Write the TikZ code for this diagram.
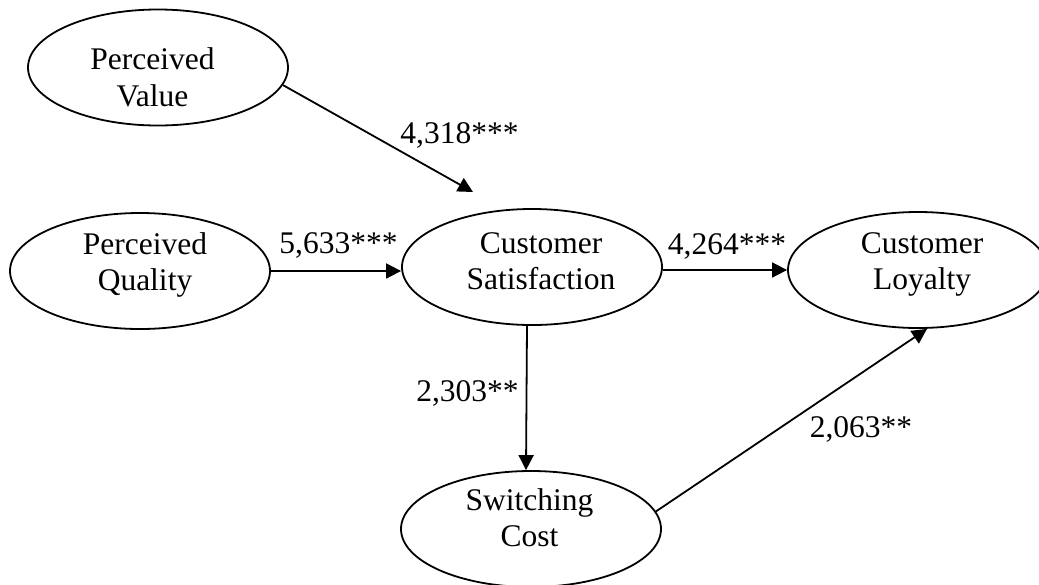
\documentclass[tikz,border=0pt]{standalone}
\usepackage{fontspec}
\setmainfont{Liberation Serif}
\usetikzlibrary{arrows.meta,shapes.geometric}
\begin{document}
\begin{tikzpicture}[x=1pt,y=-1pt,
  oval/.style={draw, ellipse, line width=1.8pt, minimum width=260pt, minimum height=116pt, inner sep=0pt},
  txt/.style={align=center, inner sep=0pt, font=\fontsize{31.5}{36.3}\selectfont},
  lbl/.style={inner sep=0pt, anchor=base, font=\fontsize{31.5}{36.3}\selectfont},
  conn/.style={line width=1.8pt, -{Triangle[length=15pt,width=15pt]}}]
\useasboundingbox (0,0) rectangle (1039,584);
\clip (0,0) rectangle (1039,584);
% ellipses
\node[oval] (PV) at (158,67.5) {};
\node[oval] (PQ) at (140,271) {};
\node[oval] (CS) at (532,267) {};
\node[oval] (CL) at (918,270) {};
\node[oval] (SC) at (531,529) {};
% texts
\node[txt] (PVt) at (152.5,77.4) {Perceived\\Value};
\node[txt] (PQt) at (145,264.7) {Perceived\\Quality};
\node[txt] (CSt) at (541,261.4) {Customer\\Satisfaction};
\node[txt] (CLt) at (922,264.8) {Customer\\Loyalty};
\node[txt] (SCt) at (529.5,517.6) {Switching\\Cost};
% connectors
\coordinate (pvend) at (473,192);
\draw[conn] (PV.-8) -- (pvend);
\draw[conn] (PQ.east) -- (PQ.east -| CS.west);
\draw[conn] (CS.east |- CL.west) -- (CL.west);
\draw[conn] ([xshift=-5pt]CS.south) -- ([xshift=-5pt]SC.north);
\draw[conn] (SC.8) -- ([xshift=9pt]CL.south);
% labels
\node[lbl] (l1) at (459.5,143) {4,318***};
\node[lbl] (l2) at (338.5,253) {5,633***};
\node[lbl] (l3) at (727,254) {4,264***};
\node[lbl] (l4) at (467.5,401) {2,303**};
\node[lbl] (l5) at (861,437) {2,063**};
\end{tikzpicture}
\end{document}
